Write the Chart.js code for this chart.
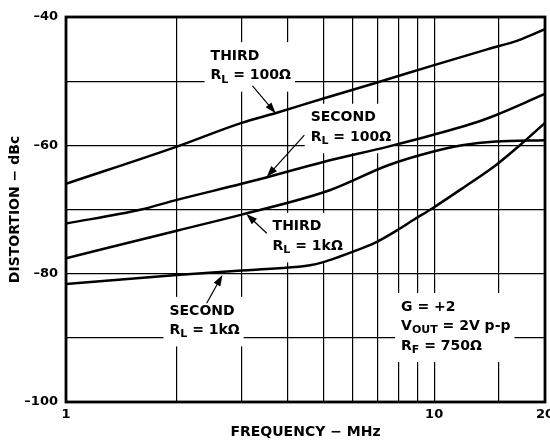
<!DOCTYPE html>
<html>
<head>
<meta charset="utf-8">
<script src="https://cdn.jsdelivr.net/npm/chart.js@4.4.0/dist/chart.umd.min.js"></script>
<style>
  html, body { margin: 0; padding: 0; background: #fff; overflow: hidden; }
  canvas { display: block; }
</style>
</head>
<body>
<canvas id="myChart" width="560" height="441"></canvas>
<script>
// tick values that carry a printed label
var freqLabels = [1, 10, 20];
var dbLabels = [-40, -60, -80, -100];

// THIRD, RL = 100 ohm
var thirdLoF  = [1, 2, 3, 3.7, 5, 7, 10, 14, 17, 20];
var thirdLoDb = [-66, -60.2, -56.5, -55, -52.7, -50.2, -47.5, -45, -43.6, -41.9];
// SECOND, RL = 100 ohm
var secondLoF  = [1, 1.6, 2, 3, 3.5, 5, 7.5, 9.9, 13.8, 20];
var secondLoDb = [-72.2, -70, -68.5, -66, -65, -62.6, -60.2, -58.4, -55.9, -52];
// THIRD, RL = 1k
var thirdHiF  = [1, 2, 3, 5.2, 7.5, 9.9, 11.9, 14.7, 20];
var thirdHiDb = [-77.6, -73.3, -70.8, -67, -63.1, -61, -60, -59.4, -59.2];
// SECOND, RL = 1k
var secondHiF  = [1, 2, 3, 3.7, 4.6, 5, 5.5, 6.2, 6.9, 7.9, 8.8, 9.9, 12, 14.7, 17, 20];
var secondHiDb = [-81.6, -80.2, -79.5, -79.2, -78.7, -78.2, -77.4, -76.3, -75.2, -73.3, -71.6, -69.8, -66.6, -63.1, -60.1, -56.5];

// callouts, anchored in data units (MHz, dBc)
var notes = [
  { f: 2.47, db: -46.1, lines: ['THIRD', 'R_L = 100Ω'], tail: [3.21, -50.75], tip: [3.71, -55.0] },
  { f: 4.62, db: -55.7, lines: ['SECOND', 'R_L = 100Ω'], tail: [4.44, -58.4], tip: [3.51, -64.9] },
  { f: 3.64, db: -72.7, lines: ['THIRD', 'R_L = 1kΩ'], tail: [3.51, -73.7], tip: [3.09, -70.7] },
  { f: 1.91, db: -85.8, lines: ['SECOND', 'R_L = 1kΩ'], tail: [2.41, -84.6], tip: [2.66, -80.2] },
  { f: 8.13, db: -85.2, lines: ['G = +2', 'V_OUT = 2V p-p', 'R_F = 750Ω'] }
];

var FONT = "'DejaVu Sans', Verdana, sans-serif";

function pts(fs, dbs) {
  return fs.map(function (f, i) { return { x: f, y: dbs[i] }; });
}

function series(fs, dbs) {
  return {
    data: pts(fs, dbs),
    borderColor: '#000',
    borderWidth: 2.5,
    pointRadius: 0,
    cubicInterpolationMode: 'monotone',
    fill: false
  };
}

// split 'R_L = 100Ω' into main letter, subscript and the rest
function parts(s) {
  var m = s.match(/^(.)_(\S+)(.*)$/);
  return m ? [[m[1], 0], [m[2], 1], [m[3], 0]] : [[s, 0]];
}

function setFont(ctx, sub) {
  ctx.font = 'bold ' + (sub ? 11 : 14) + 'px ' + FONT;
}

function textWidth(ctx, s) {
  var w = 0;
  parts(s).forEach(function (p) {
    setFont(ctx, p[1]);
    w += ctx.measureText(p[0]).width;
  });
  return w;
}

var LH = 19.5;

var calloutPlugin = {
  id: 'callouts',
  beforeDatasetsDraw: function (chart) {
    var ctx = chart.ctx, xs = chart.scales.x, ys = chart.scales.y;
    ctx.save();
    notes.forEach(function (n) {
      var x = xs.getPixelForValue(n.f), y = ys.getPixelForValue(n.db);
      var w = 0;
      n.lines.forEach(function (s) { w = Math.max(w, textWidth(ctx, s)); });
      ctx.fillStyle = '#fff';
      ctx.fillRect(x - 6, y - 14, w + 10, (n.lines.length - 1) * LH + 30);
      ctx.fillStyle = '#000';
      ctx.textAlign = 'left';
      ctx.textBaseline = 'middle';
      n.lines.forEach(function (s, i) {
        var cx = x, cy = y + i * LH;
        parts(s).forEach(function (p) {
          setFont(ctx, p[1]);
          ctx.fillText(p[0], cx, cy + (p[1] ? 4 : 0));
          cx += ctx.measureText(p[0]).width;
        });
      });
    });
    ctx.restore();
  },
  afterDatasetsDraw: function (chart) {
    var ctx = chart.ctx, xs = chart.scales.x, ys = chart.scales.y, a = chart.chartArea;
    ctx.save();
    ctx.strokeStyle = '#000';
    ctx.fillStyle = '#000';
    notes.forEach(function (n) {
      if (!n.tip) return;
      var x0 = xs.getPixelForValue(n.tail[0]), y0 = ys.getPixelForValue(n.tail[1]);
      var x1 = xs.getPixelForValue(n.tip[0]), y1 = ys.getPixelForValue(n.tip[1]);
      var ang = Math.atan2(y1 - y0, x1 - x0);
      var c = Math.cos(ang), s = Math.sin(ang);
      ctx.lineWidth = 1.2;
      ctx.beginPath();
      ctx.moveTo(x0, y0);
      ctx.lineTo(x1 - 8 * c, y1 - 8 * s);
      ctx.stroke();
      ctx.beginPath();
      ctx.moveTo(x1, y1);
      ctx.lineTo(x1 - 11 * c + 3.8 * s, y1 - 11 * s - 3.8 * c);
      ctx.lineTo(x1 - 11 * c - 3.8 * s, y1 - 11 * s + 3.8 * c);
      ctx.closePath();
      ctx.fill();
    });
    // plot frame
    ctx.lineWidth = 2.8;
    ctx.strokeRect(a.left, a.top, a.right - a.left, a.bottom - a.top);
    ctx.restore();
  }
};

Chart.defaults.font.family = FONT;
Chart.defaults.font.weight = 'bold';
Chart.defaults.color = '#000';

var ctx = document.getElementById('myChart').getContext('2d');
var myChart = new Chart(ctx, {
  type: 'line',
  data: {
    datasets: [
      series(thirdLoF, thirdLoDb),
      series(secondLoF, secondLoDb),
      series(thirdHiF, thirdHiDb),
      series(secondHiF, secondHiDb)
    ]
  },
  options: {
    responsive: false,
    animation: false,
    layout: { padding: { left: 0, top: 17, right: 15, bottom: 0 } },
    plugins: { legend: { display: false }, tooltip: { enabled: false } },
    scales: {
      x: {
        type: 'logarithmic',
        min: 1,
        max: 20,
        border: { display: false },
        grid: { color: '#000', lineWidth: 1.2, drawTicks: false },
        ticks: {
          autoSkip: false,
          maxRotation: 0,
          padding: 5,
          font: { size: 13, weight: 'bold' },
          callback: function (v) {
            return freqLabels.indexOf(Math.round(v * 100) / 100) >= 0 ? String(v) : '';
          }
        },
        title: {
          display: true,
          text: 'FREQUENCY − MHz',
          font: { size: 14, weight: 'bold' },
          padding: { top: 0, bottom: 0 }
        },
        afterFit: function (s) { s.height = 39; }
      },
      y: {
        type: 'linear',
        min: -100,
        max: -40,
        border: { display: false },
        grid: { color: '#000', lineWidth: 1.2, drawTicks: false },
        ticks: {
          stepSize: 10,
          autoSkip: false,
          padding: 8,
          font: { size: 13, weight: 'bold' },
          callback: function (v) {
            return dbLabels.indexOf(v) >= 0 ? '–' + Math.abs(v) : '';
          }
        },
        title: {
          display: true,
          text: 'DISTORTION − dBc',
          font: { size: 14, weight: 'bold' },
          padding: { top: 7, bottom: 0 }
        },
        afterFit: function (s) { s.width = 66; }
      }
    }
  },
  plugins: [calloutPlugin]
});
</script>
</body>
</html>
